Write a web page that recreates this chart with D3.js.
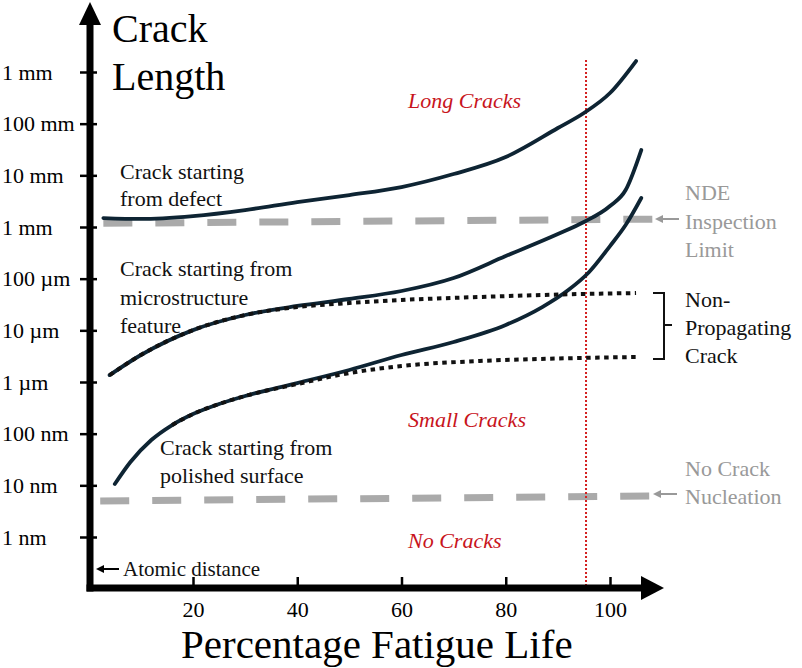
<!DOCTYPE html>
<html>
<head>
<meta charset="utf-8">
<script src="https://cdn.jsdelivr.net/npm/d3@7"></script>
<style>
  body { margin: 0; background: #fff; }
</style>
</head>
<body>
<div id="chart"></div>
<script>
// crack length vs fatigue life sketch

// tick stuff
let yTickValues = [1e-9, 1e-8, 1e-7, 1e-6, 1e-5, 1e-4, 1e-3, 1e-2, 1e-1, 1];
let yTickLabels = ["1 nm", "10 nm", "100 nm", "1 \u00b5m", "10 \u00b5m", "100 \u00b5m", "1 mm", "10 mm", "100 mm", "1 mm"];
let xTickValues = [20, 40, 60, 80, 100];

// curves: [percent life, crack length in m]
let defectCurve = [
  [2.8, 1.49e-3], [10, 1.43e-3], [20, 1.63e-3], [30, 2.13e-3], [40, 3.04e-3],
  [50, 4.16e-3], [60, 5.94e-3], [70, 1.06e-2], [80, 2.26e-2], [90, 8.24e-2],
  [95, 0.161], [100, 0.392], [105, 1.63]
];
let microCurve = [
  [4, 1.36e-6], [10, 3.33e-6], [20, 1.01e-5], [30, 1.98e-5], [40, 2.96e-5],
  [50, 4.04e-5], [60, 5.77e-5], [70, 1.03e-4], [80, 2.74e-4], [90, 7.31e-4],
  [95, 1.25e-3], [100, 2.55e-3], [103, 5.2e-3], [106, 3.09e-2]
];
let microArrest = [
  [4, 1.36e-6], [10, 3.33e-6], [20, 1.01e-5], [30, 1.98e-5], [40, 2.82e-5],
  [50, 3.38e-5], [60, 3.87e-5], [75, 4.42e-5], [90, 4.93e-5], [105, 5.27e-5]
];
let polishedCurve = [
  [5, 1.06e-8], [8, 2.83e-8], [12, 7.53e-8], [16, 1.47e-7], [20, 2.4e-7],
  [25, 3.75e-7], [30, 5.36e-7], [40, 9.55e-7], [50, 1.71e-6], [60, 3.33e-6],
  [70, 5.94e-6], [80, 1.27e-5], [87, 2.82e-5], [92, 6.03e-5], [96, 1.35e-4],
  [100, 4.28e-4], [103, 1.09e-3], [106, 3.64e-3]
];
let polishedArrest = [
  [16, 1.47e-7], [20, 2.4e-7], [25, 3.75e-7], [30, 5.36e-7], [40, 9.14e-7],
  [50, 1.49e-6], [60, 2.04e-6], [75, 2.55e-6], [90, 2.85e-6], [105, 3.05e-6]
];

// limits
let ndeLimit = [[2.8, 1.18e-3], [108.3, 1.42e-3]];
let nucleationLimit = [[2.2, 4.98e-9], [108.0, 6.2e-9]];
let criticalLife = 95.4;

let svg = d3.select("#chart").append("svg")
  .attr("width", 802)
  .attr("height", 668);

let x = d3.scaleLinear().domain([0, 100]).range([88.75, 610]);
let y = d3.scaleLog().domain([1e-9, 1]).range([537, 72]);

let line = d3.line()
  .x(function(d) { return x(d[0]); })
  .y(function(d) { return y(d[1]); })
  .curve(d3.curveMonotoneX);

let straight = d3.line()
  .x(function(d) { return x(d[0]); })
  .y(function(d) { return y(d[1]); });

// dashed grey limits
[ndeLimit, nucleationLimit].forEach(function(l) {
  svg.append("path")
    .attr("d", straight(l))
    .attr("fill", "none")
    .attr("stroke", "#aaaaaa")
    .attr("stroke-width", 7)
    .attr("stroke-dasharray", "29,23");
});

// red dotted line
svg.append("line")
  .attr("x1", x(criticalLife)).attr("x2", x(criticalLife))
  .attr("y1", 60).attr("y2", 588)
  .attr("stroke", "#d42020")
  .attr("stroke-width", 2)
  .attr("stroke-dasharray", "2,2");

// solid curves
[defectCurve, microCurve, polishedCurve].forEach(function(c) {
  svg.append("path")
    .attr("d", line(c))
    .attr("fill", "none")
    .attr("stroke", "#0e2433")
    .attr("stroke-width", 3.8)
    .attr("stroke-linecap", "round");
});

// non propagating (dotted)
[microArrest, polishedArrest].forEach(function(c) {
  svg.append("path")
    .attr("d", line(c))
    .attr("fill", "none")
    .attr("stroke", "#111")
    .attr("stroke-width", 4)
    .attr("stroke-dasharray", "4.5,4.5");
});

// axes
let yAxis = d3.axisLeft(y)
  .tickValues(yTickValues)
  .tickFormat(function(d, i) { return yTickLabels[i]; })
  .tickSize(0);

let gy = svg.append("g")
  .attr("transform", "translate(90,0)")
  .call(yAxis);
gy.select(".domain").remove();
gy.selectAll("text")
  .attr("x", -88)
  .attr("dy", "0.32em")
  .attr("text-anchor", "start")
  .attr("font-size", 22)
  .style("font-family", "Liberation Serif")
  .attr("fill", "#000");
gy.selectAll(".tick").append("line")
  .attr("x1", -10).attr("x2", 7)
  .attr("stroke", "#000")
  .attr("stroke-width", 2.5);

let xAxis = d3.axisBottom(x)
  .tickValues(xTickValues)
  .tickSize(0);

let gx = svg.append("g")
  .attr("transform", "translate(0,588)")
  .call(xAxis);
gx.select(".domain").remove();
gx.selectAll("text")
  .attr("y", 29)
  .attr("dy", 0)
  .attr("font-size", 22)
  .style("font-family", "Liberation Serif")
  .attr("fill", "#000");
gx.selectAll(".tick").append("line")
  .attr("y1", -11).attr("y2", 0)
  .attr("stroke", "#000")
  .attr("stroke-width", 2.5);

// thick axis lines with arrows
svg.append("line")
  .attr("x1", 90).attr("x2", 90)
  .attr("y1", 22).attr("y2", 591.5)
  .attr("stroke", "#000").attr("stroke-width", 7);
svg.append("path")
  .attr("d", "M79,25 L90,2 L101,25 Z")
  .attr("fill", "#000");
svg.append("line")
  .attr("x1", 86.5).attr("x2", 645)
  .attr("y1", 588).attr("y2", 588)
  .attr("stroke", "#000").attr("stroke-width", 7);
svg.append("path")
  .attr("d", "M641,576 L664,588 L641,600 Z")
  .attr("fill", "#000");

// labels
function lines(arr, x0, y0, step, size, color, style) {
  arr.forEach(function(t, i) {
    svg.append("text")
      .attr("x", x0).attr("y", y0 + i * step)
      .style("font-family", "Liberation Serif")
      .attr("font-size", size)
      .attr("fill", color)
      .attr("font-style", style || "normal")
      .text(t);
  });
}

// axis titles
lines(["Crack", "Length"], 112, 42, 48, 40, "#000");
lines(["Percentage Fatigue Life"], 181, 658, 0, 41, "#000");

lines(["Crack starting", "from defect"], 120, 179, 27, 22, "#111");
lines(["Crack starting from", "microstructure", "feature"], 120, 276, 28.5, 22, "#111");
lines(["Crack starting from", "polished surface"], 160, 455, 28, 22, "#111");

lines(["Long Cracks"], 408, 108, 0, 22, "#c8141c", "italic");
lines(["Small Cracks"], 408, 427, 0, 22, "#c8141c", "italic");
lines(["No Cracks"], 408, 548, 0, 22, "#c8141c", "italic");

lines(["NDE", "Inspection", "Limit"], 685, 200, 28.5, 22, "#999");
lines(["No Crack", "Nucleation"], 685, 476, 28, 22, "#999");
lines(["Non-", "Propagating", "Crack"], 685, 307, 28, 22, "#111");
lines(["Atomic distance"], 123, 576, 0, 21, "#111");

// little arrows
function arrow(x1, x2, yy, color, w) {
  svg.append("line")
    .attr("x1", x1 + 5).attr("x2", x2)
    .attr("y1", yy).attr("y2", yy)
    .attr("stroke", color).attr("stroke-width", w);
  svg.append("path")
    .attr("d", "M" + x1 + "," + yy + " L" + (x1 + 8) + "," + (yy - 4) + " L" + (x1 + 8) + "," + (yy + 4) + " Z")
    .attr("fill", color);
}
arrow(655, 679, 219, "#999", 2);
arrow(653, 677, 494, "#999", 2);
arrow(96, 119, 569, "#000", 2);

// bracket
svg.append("path")
  .attr("d", "M653,293 H664 V359 H653 M664,325 H672")
  .attr("fill", "none")
  .attr("stroke", "#111")
  .attr("stroke-width", 2);
</script>
</body>
</html>
